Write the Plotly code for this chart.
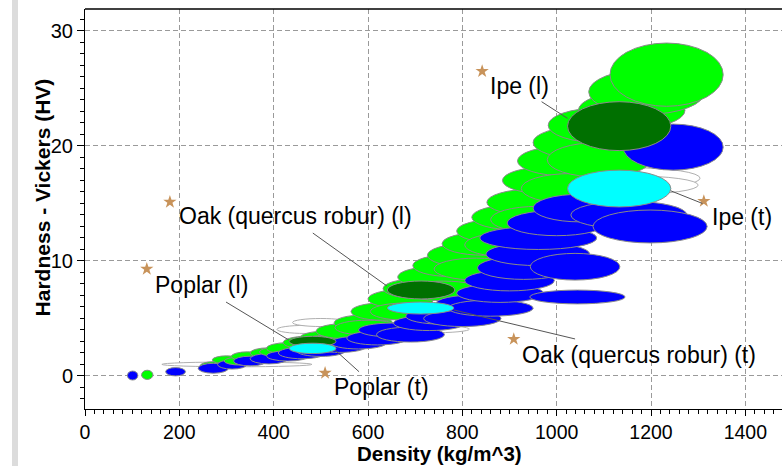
import plotly.graph_objects as go

# ---------------- data (density kg/m^3, hardness HV) ----------------
# longitudinal (green) wood records: ranges
green_d_min = [120, 244, 270, 295, 310, 350, 370, 385, 420, 460, 455, 490, 530, 528, 564, 605,
               600, 632, 675, 663, 695, 740, 726, 757, 805, 788, 820, 860, 852, 885, 925,
               917, 950, 980, 982, 1046, 1068, 1113]
green_d_max = [144, 300, 330, 365, 380, 430, 470, 475, 520, 580, 565, 610, 670, 652, 696, 755,
               740, 778, 845, 817, 855, 920, 894, 933, 995, 972, 1010, 1060, 1048, 1085, 1135,
               1123, 1160, 1200, 1198, 1272, 1314, 1353]
green_hv_min = [-0.3, 0.52, 1.05, 0.95, 1.3, 1.55, 1.65, 1.9, 2.35, 2.45, 2.7, 3.25, 3.55, 3.9, 4.85, 4.85,
                5.9, 6.75, 6.55, 7.7, 8.65, 8.35, 9.5, 10.5, 10.35, 11.55, 12.7, 12.45, 13.95, 15.8, 15.0,
                17.4, 18.9, 17.3, 20.3, 21.5, 22.75, 23.45]
green_hv_max = [0.5, 1.24, 1.75, 1.65, 2.1, 2.45, 2.55, 2.9, 3.45, 3.55, 3.9, 4.55, 4.85, 5.3, 6.35, 6.35,
                7.5, 8.45, 8.25, 9.5, 10.55, 10.25, 11.5, 12.5, 12.45, 13.65, 14.9, 14.75, 16.25, 18.2, 17.6,
                20.0, 21.7, 20.3, 23.3, 24.7, 26.65, 28.95]

# transverse (blue) wood records: ranges
blue_d_min = [90, 171, 240, 281, 315, 350, 385, 410, 448, 482, 520, 555, 580, 618, 654, 680,
              718, 744, 770, 788, 805, 832, 850, 943, 944, 837, 895, 950, 1030, 1077, 1141]
blue_d_max = [112, 213, 304, 343, 385, 430, 475, 510, 552, 598, 640, 685, 720, 762, 806, 840,
              882, 916, 950, 972, 995, 1028, 1070, 1145, 1134, 1085, 1105, 1150, 1276, 1319, 1353]
blue_hv_min = [-0.35, 0.01, 0.24, 0.6, 0.88, 1.05, 1.3, 1.5, 1.7, 2.05, 2.35, 2.7, 3.4, 2.95, 3.95, 4.5,
               4.3, 5.55, 5.2, 6.4, 7.4, 8.4, 9.6, 6.27, 8.34, 11.0, 12.2, 13.4, 12.8, 11.57, 17.9]
blue_hv_max = [0.43, 0.73, 1.1, 1.4, 1.72, 1.95, 2.2, 2.5, 2.7, 3.15, 3.45, 3.9, 4.6, 4.25, 5.25, 5.9,
               5.7, 7.05, 6.6, 8.0, 9.2, 10.4, 11.6, 7.47, 10.66, 13.0, 14.4, 15.8, 15.2, 14.43, 21.9]

# other (unfilled) records
white_d_min = [163, 407, 440, 650, 1020, 1020]
white_d_max = [481, 526, 560, 815, 1304, 1300]
white_hv_min = [0.8, 3.7, 4.3, 3.75, 16.3, 15.8]
white_hv_max = [1.22, 4.4, 5.0, 4.4, 18.1, 17.4]

# highlighted, labelled records
hl_names = ["Poplar (l)", "Poplar (t)", "Oak (quercus robur) (l)", "Oak (quercus robur) (t)",
            "Ipe (l)", "Ipe (t)"]
hl_kind = ["l", "t", "l", "t", "l", "t"]
hl_d_min = [433, 433, 641, 641, 1023, 1023]
hl_d_max = [532, 532, 784, 782, 1242, 1242]
hl_hv_min = [2.55, 1.95, 6.7, 5.39, 19.6, 14.7]
hl_hv_max = [3.45, 2.85, 8.26, 6.43, 23.85, 17.9]

star_d = [131, 509, 180, 909, 842, 1312]
star_hv = [9.3, 0.26, 15.13, 3.2, 26.5, 15.2]
label_d = [145, 523, 194, 922, 855, 1326]
label_hv = [7.9, -0.96, 13.9, 1.83, 25.2, 13.8]
leader_d0 = [299, 530, 483, 782, 968, 1242]
leader_hv0 = [6.43, 2.26, 12.43, 5.74, 23.85, 16.1]
leader_d1 = [432, 581, 640, 1039, 1023, 1309]
leader_hv1 = [3.13, 0.37, 7.83, 3.22, 22.4, 15.0]

x_ticks = [0, 200, 400, 600, 800, 1000, 1200, 1400]
y_ticks = [0, 10, 20, 30]
x_title = "Density (kg/m^3)"
y_title = "Hardness - Vickers (HV)"

# ---------------- styles ----------------
GREEN = "#00FF00"
BLUE = "#0000FF"
DARK_GREEN = "#007000"
CYAN = "#00FFFF"
OUTLINE = "#8a8a8a"
STAR = "#C8935A"
FONT = "Liberation Sans, Arial, sans-serif"

shapes = []


def ellipse(x0, x1, y0, y1, fill, line=OUTLINE, lw=1):
    return dict(type="circle", xref="x", yref="y", x0=x0, x1=x1, y0=y0, y1=y1,
                fillcolor=fill, line=dict(color=line, width=lw), layer="above")


for i in range(len(white_d_min)):
    shapes.append(ellipse(white_d_min[i], white_d_max[i], white_hv_min[i], white_hv_max[i],
                          "white", "#b0b0b0"))

# interleave records by density order
recs = []
for i in range(len(green_d_min)):
    recs.append((green_d_min[i] + green_d_max[i], 0, green_d_min[i], green_d_max[i],
                 green_hv_min[i], green_hv_max[i], GREEN))
for i in range(len(blue_d_min)):
    recs.append((blue_d_min[i] + blue_d_max[i], 1, blue_d_min[i], blue_d_max[i],
                 blue_hv_min[i], blue_hv_max[i], BLUE))
recs.sort(key=lambda r: (r[0], r[1]))
for r in recs:
    shapes.append(ellipse(r[2], r[3], r[4], r[5], r[6]))

for i in range(len(hl_names)):
    fill = DARK_GREEN if hl_kind[i] == "l" else CYAN
    shapes.append(ellipse(hl_d_min[i], hl_d_max[i], hl_hv_min[i], hl_hv_max[i], fill))

for i in range(len(hl_names)):
    shapes.append(dict(type="line", xref="x", yref="y",
                       x0=leader_d0[i], y0=leader_hv0[i], x1=leader_d1[i], y1=leader_hv1[i],
                       line=dict(color="#555555", width=1), layer="above"))

# frame pieces
shapes.append(dict(type="line", xref="paper", yref="paper", x0=0, x1=1, y0=1, y1=1,
                   line=dict(color="black", width=1.5)))
shapes.append(dict(type="rect", xref="paper", yref="paper", x0=-0.1047, x1=-0.0961,
                   y0=-0.1425, y1=1.0225, fillcolor="#dcdcdc", line=dict(width=0)))

fig = go.Figure()
fig.add_trace(go.Scatter(x=star_d, y=star_hv, mode="markers",
                         marker=dict(symbol="star", size=10, color=STAR),
                         hoverinfo="skip", showlegend=False))

annotations = []
for i in range(len(hl_names)):
    annotations.append(dict(x=label_d[i], y=label_hv[i], xref="x", yref="y", text=hl_names[i],
                            showarrow=False, xanchor="left", yanchor="middle",
                            font=dict(family=FONT, size=23, color="black")))
# axis titles
annotations.append(dict(x=0.509, y=-0.1425, xref="paper", yref="paper", text=x_title,
                        showarrow=False, xanchor="center", yanchor="bottom", borderpad=0,
                        font=dict(family=FONT, size=20.5, color="black", weight="bold")))
annotations.append(dict(x=-0.0617, y=0.529, xref="paper", yref="paper", text=y_title,
                        showarrow=False, xanchor="center", yanchor="middle", textangle=-90,
                        font=dict(family=FONT, size=21, color="black", weight="bold")))

fig.update_layout(
    width=782, height=466,
    margin=dict(l=85, r=0, t=9, b=57, autoexpand=False),
    paper_bgcolor="white", plot_bgcolor="white",
    shapes=shapes, annotations=annotations,
    showlegend=False,
    font=dict(family=FONT, size=20, color="black"),
)

fig.update_xaxes(
    range=[0, 1477.7], tickvals=x_ticks, ticks="outside", ticklen=6, tickcolor="black",
    showline=True, linecolor="black", linewidth=1, zeroline=False, automargin=False,
    showgrid=True, gridcolor="#9a9a9a", gridwidth=1, griddash="5px,3px",
    minor=dict(dtick=20, ticks="outside", ticklen=4, tickcolor="black", showgrid=False),
    tickfont=dict(family=FONT, size=19.5, color="black"),
)
fig.update_yaxes(
    range=[-2.87, 31.91], tickvals=y_ticks, ticks="outside", ticklen=7, tickcolor="black",
    showline=True, linecolor="black", linewidth=1, zeroline=False, automargin=False,
    showgrid=True, gridcolor="#9a9a9a", gridwidth=1, griddash="5px,3px",
    minor=dict(dtick=1, ticks="outside", ticklen=4, tickcolor="black", showgrid=False),
    tickfont=dict(family=FONT, size=20, color="black"),
)

fig.write_html("out.html", config={"displayModeBar": False},
               post_script="document.body.style.margin='0px';")
